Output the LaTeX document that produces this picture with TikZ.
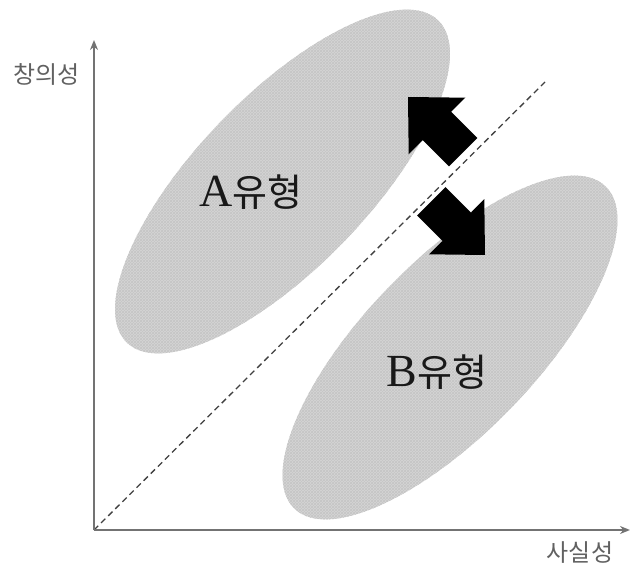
\documentclass[tikz,border=0pt]{standalone}
\usepackage{fontspec}
\setmainfont{Liberation Serif}
\newfontfamily\kr{Noto Sans CJK KR}
\usetikzlibrary{arrows.meta,patterns}
\begin{document}
\begin{tikzpicture}[x=1pt,y=-1pt,
  axisline/.style={draw=black!55,line width=2.1pt,-{Stealth[length=10pt,width=8pt]}},
  blob/.style={fill=gray!32},
  blobtex/.style={pattern=north east lines,pattern color=gray!45},
  blobtex2/.style={pattern=north west lines,pattern color=gray!45},
  divider/.style={draw=black!75,line width=1.3pt,dash pattern=on 6pt off 4pt},
  blockarrow/.style={fill=black},
  typelabel/.style={inner sep=0pt,text=black!90},
  axislabel/.style={inner sep=0pt,text=black!62,font=\kr\fontsize{24}{27}\selectfont}]
\useasboundingbox (0,0) rectangle (630,567);
% ellipses
\coordinate (ca) at (282.5,181.5);
\coordinate (cb) at (450,347.5);
\foreach \c in {ca,cb}{
  \path[blob,rotate around={46:(\c)}] (\c) ellipse [x radius=224pt,y radius=86pt];
  \path[blobtex,rotate around={46:(\c)}] (\c) ellipse [x radius=224pt,y radius=86pt];
  \path[blobtex2,rotate around={46:(\c)}] (\c) ellipse [x radius=224pt,y radius=86pt];
}
% axes
\coordinate (o) at (94,530);
\coordinate (ytip) at (94,40);
\coordinate (xtip) at (630,530);
\coordinate (dend) at (545,82);
\draw[divider] (o) -- (dend);
\draw[axisline] (o) -- (ytip);
\draw[axisline] (o) -- (xtip);
% block arrows
\fill[blockarrow] (408,97) -- (465.3,97.7) -- (451.1,111.8) -- (477.3,138.0)
  -- (449.0,166.3) -- (422.8,140.1) -- (408.7,154.3) -- cycle;
\fill[blockarrow] (485,255) -- (484.3,199.1) -- (470.9,212.6) -- (445.4,187.1)
  -- (417.1,215.4) -- (442.6,240.9) -- (429.1,254.3) -- cycle;
% labels
\node[typelabel] (la) at (251,192) {{\fontsize{46}{50}\selectfont A}{\kr\fontsize{38}{44}\selectfont 유형}};
\node[typelabel] (lb) at (437,372) {{\fontsize{46}{50}\selectfont B}{\kr\fontsize{38}{44}\selectfont 유형}};
\node[axislabel] (ly) at (46.5,74.5) {창의성};
\node[axislabel] (lx) at (580,553) {사실성};
\end{tikzpicture}
\end{document}
